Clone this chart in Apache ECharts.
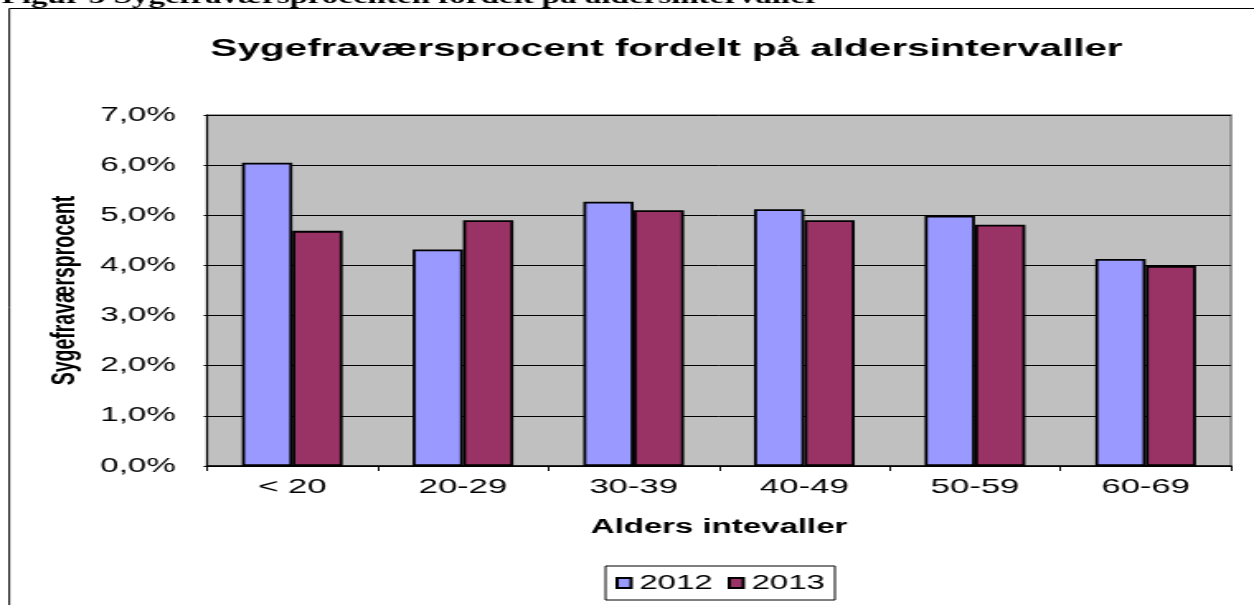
<!DOCTYPE html>
<html>
<head>
<meta charset="utf-8">
<script src="https://cdn.jsdelivr.net/npm/echarts@6/dist/echarts.min.js"></script>
<style>
  html, body { margin: 0; padding: 0; background: #fff; overflow: hidden; }
  /* the reference picture is stretched sideways, so the chart is drawn narrow and scaled */
  #chart { width: 760px; height: 605px; transform: scaleX(1.65); transform-origin: 0 0; }
</style>
</head>
<body>
<div id="chart"></div>
<script>
const ageGroups = ["< 20", "20-29", "30-39", "40-49", "50-59", "60-69"];
const values2012 = [6.05, 4.32, 5.27, 5.12, 4.99, 4.13];
const values2013 = [4.69, 4.90, 5.10, 4.90, 4.81, 3.99];
const seriesNames = ["2012", "2013"];

const FONT = "'Liberation Sans', Arial, sans-serif";
const pct = (v) => v.toFixed(1).replace(".", ",") + "%";

const chart = echarts.init(document.getElementById("chart"));

const option = {
  animation: false,
  backgroundColor: "#fff",
  title: {
    text: "Sygefraværsprocent fordelt på aldersintervaller",
    left: 399,
    textAlign: "center",
    top: 32,
    textStyle: { fontFamily: FONT, fontSize: 24.5, fontWeight: "bold", color: "#000" },
  },
  // figure caption cut at the top and the frame round the chart
  graphic: [
    {
      type: "text",
      style: {
        text: "Figur 5 Sygefraværsprocenten fordelt på aldersintervaller",
        x: 1,
        y: 8,
        verticalAlign: "bottom",
        font: "bold 20px 'Liberation Serif', 'Times New Roman', serif",
        fill: "#000",
      },
    },
    {
      type: "rect",
      shape: { x: 5.6, y: 8.5, width: 900, height: 700 },
      style: { fill: "none", stroke: "#000", lineWidth: 1 },
      silent: true,
    },
  ],
  legend: {
    data: seriesNames,
    left: 367,
    top: 566,
    orient: "horizontal",
    padding: [7, 6],
    itemGap: 9,
    itemWidth: 8.5,
    itemHeight: 10,
    icon: "rect",
    borderColor: "#000",
    borderWidth: 1,
    textStyle: { fontFamily: FONT, fontSize: 20, color: "#000" },
  },
  grid: {
    left: 125.45,
    right: 13.94,
    top: 115,
    bottom: 139,
    show: true,
    backgroundColor: "#C0C0C0",
    borderColor: "#808080",
    borderWidth: 1.5,
  },
  xAxis: {
    type: "category",
    data: ageGroups,
    name: "Alders intevaller",
    nameLocation: "middle",
    nameGap: 51,
    nameTextStyle: { fontFamily: FONT, fontSize: 20, fontWeight: "bold", color: "#000" },
    axisLine: { lineStyle: { color: "#000", width: 1.5 } },
    axisTick: { show: true, length: 5, lineStyle: { color: "#000", width: 1 } },
    axisLabel: { fontFamily: FONT, fontSize: 21, color: "#000", margin: 11 },
  },
  yAxis: {
    type: "value",
    min: 0,
    max: 7,
    interval: 1,
    name: "Sygefraværsprocent",
    nameLocation: "middle",
    nameGap: 72,
    nameTextStyle: { fontFamily: FONT, fontSize: 19.5, fontWeight: "bold", color: "#000" },
    axisLine: { show: true, lineStyle: { color: "#000", width: 1 } },
    axisTick: { show: true, length: 2, lineStyle: { color: "#000" } },
    axisLabel: { fontFamily: FONT, fontSize: 20, color: "#000", margin: 19, formatter: pct },
    splitLine: { lineStyle: { color: "#000", width: 1 } },
  },
  series: [
    {
      name: seriesNames[0],
      type: "bar",
      data: values2012,
      barGap: "0%",
      barCategoryGap: "41%",
      itemStyle: { color: "#9999FF", borderColor: "#000", borderWidth: 1.8 },
    },
    {
      name: seriesNames[1],
      type: "bar",
      data: values2013,
      itemStyle: { color: "#993366", borderColor: "#000", borderWidth: 1.8 },
    },
  ],
};

chart.setOption(option);
</script>
</body>
</html>
